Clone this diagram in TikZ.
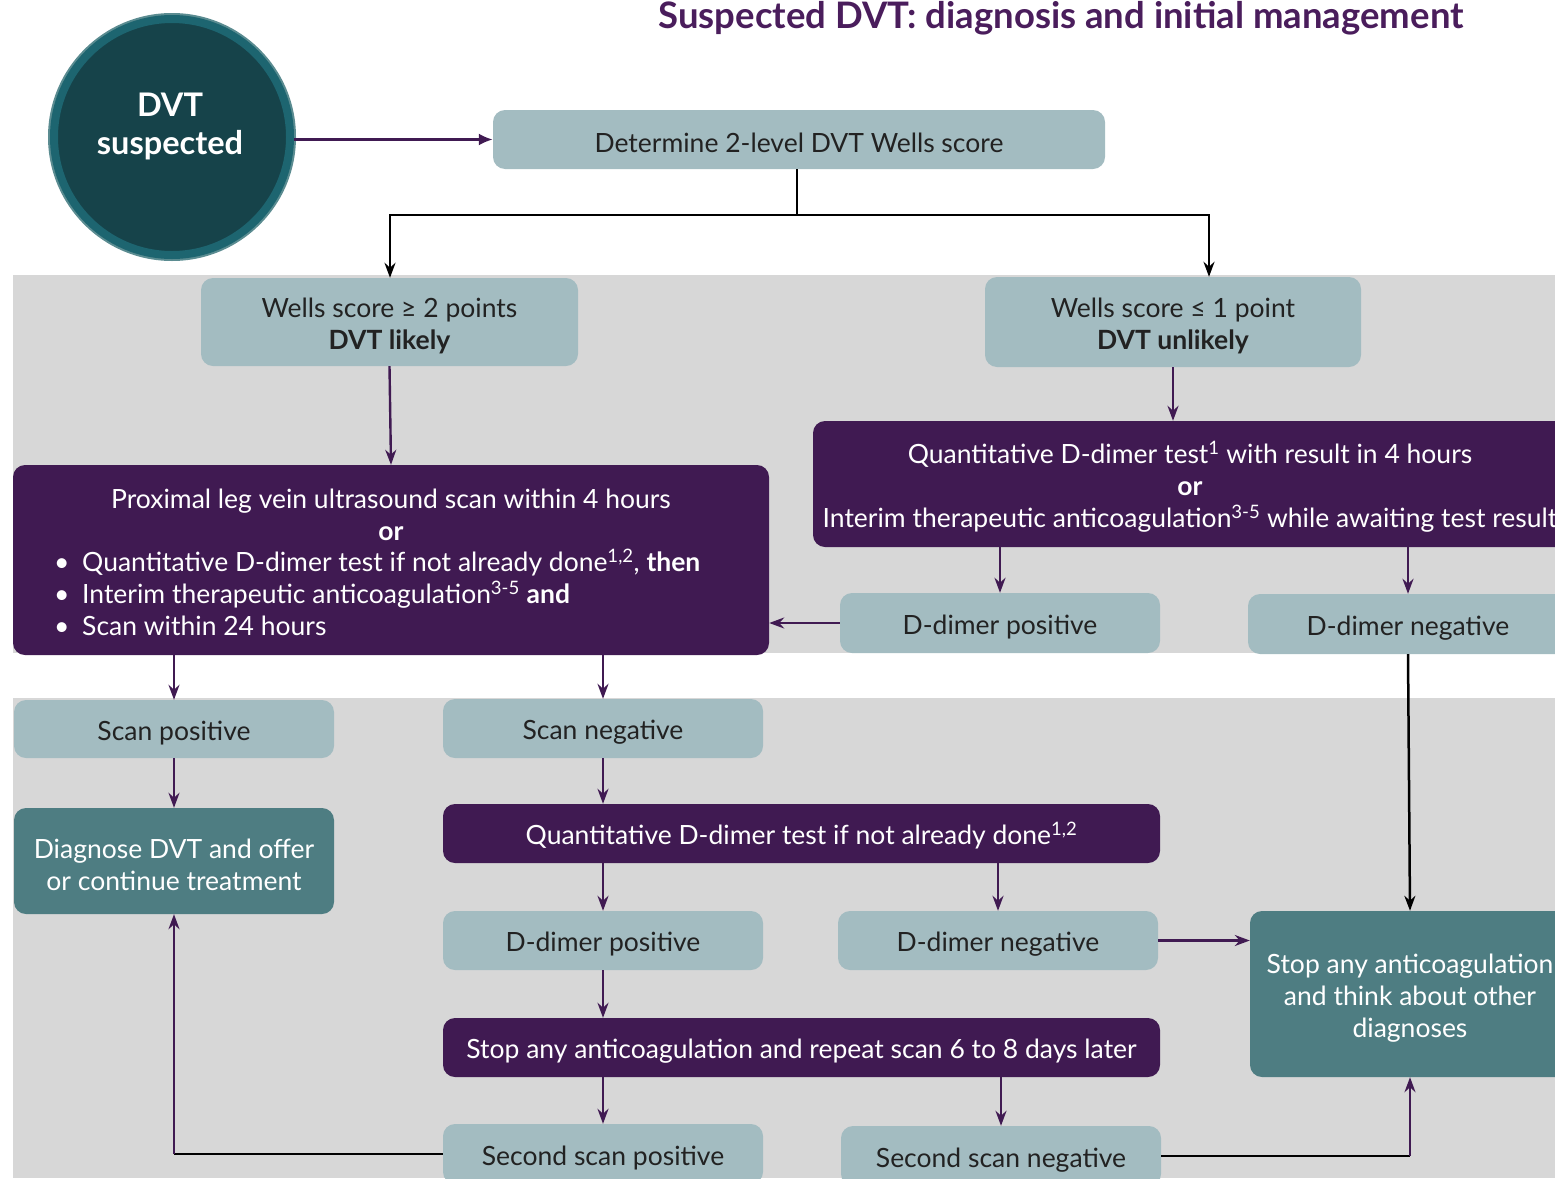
\documentclass[tikz,border=0pt]{standalone}
\usepackage{fontspec}
\setmainfont{Lato}
\usetikzlibrary{arrows.meta}
\definecolor{boxlight}{HTML}{A3BCC1}
\definecolor{boxpurple}{HTML}{401A52}
\definecolor{boxteal}{HTML}{4E7D82}
\definecolor{bandgray}{HTML}{D7D7D7}
\definecolor{titlecol}{HTML}{4A1D5C}
\definecolor{txtdark}{HTML}{222222}
\definecolor{circfill}{HTML}{16434A}
\definecolor{circring}{HTML}{1D6570}
\definecolor{circedge}{HTML}{5B8C91}
\newcommand\boxstrut{\rule{0pt}{27pt}}
\begin{document}
\begin{tikzpicture}[x=1pt,y=-1pt,
  bodyfont/.style={font=\fontsize{26.5}{32}\selectfont},
  base/.style={rounded corners=12pt, inner sep=0pt, align=center, bodyfont},
  light/.style={base, fill=boxlight, text=txtdark},
  purp/.style={base, fill=boxpurple, text=white},
  teal/.style={base, fill=boxteal, text=white},
  parr/.style={draw=boxpurple, line width=2.4pt, -{Stealth[length=15pt,width=11pt]}},
  barr/.style={draw=black, line width=2.5pt, -{Stealth[length=15pt,width=11pt]}},
  bline/.style={draw=black, line width=2.8pt},
]
\useasboundingbox (0,0) rectangle (1555,1178);
% bands
\fill[bandgray] (13,275) rectangle (1555,653);
\fill[bandgray] (13,698) rectangle (1555,1178);
% title
\node[anchor=base, text=titlecol, font=\fontsize{36.5}{42}\selectfont\bfseries, inner sep=0pt] (title) at (1061,28) {Suspected DVT: diagnosis and initial management};
% circle
\fill[circedge] (172,137) circle (124);
\node[circle, minimum size=236pt, inner sep=0pt, fill=circfill, draw=circring, line width=8pt] (circ) at (172,137) {};
\node[align=center, text=white, font=\fontsize{32.5}{38}\selectfont\bfseries] (circtxt) at (170,126) {DVT\\suspected};
% boxes
\node[light, minimum width=612pt, minimum height=59pt] (det) at (799,139.5) {\boxstrut Determine 2-level DVT Wells score};
\node[light, minimum width=377pt, minimum height=88pt] (wl) at (389.5,322) {\boxstrut Wells score ≥ 2 points\\\textbf{DVT likely}};
\node[light, minimum width=376pt, minimum height=90pt] (wu) at (1173,322) {\boxstrut Wells score ≤ 1 point\\\textbf{DVT unlikely}};
\node[purp, minimum width=756pt, minimum height=190pt] (prox) at (391,560) {};
\node[align=center, text=white, bodyfont, inner sep=0pt] (proxhead) at (391,515) {Proximal leg vein ultrasound scan within 4 hours\\\textbf{or}};
\node[align=left, anchor=west, text=white, bodyfont, inner sep=0pt] (proxlist) at (41,592) {\makebox[41pt][c]{•}Quantitative D-dimer test if not already done\textsuperscript{1,2}, \textbf{then}\\\makebox[41pt][c]{•}Interim therapeutic anticoagulation\textsuperscript{3-5} \textbf{and}\\\makebox[41pt][c]{•}Scan within 24 hours};
\node[purp, minimum width=754pt, minimum height=126pt] (dd1) at (1190,484) {\boxstrut Quantitative D-dimer test\textsuperscript{1} with result in 4 hours\\\textbf{or}\\Interim therapeutic anticoagulation\textsuperscript{3-5} while awaiting test result};
\node[light, minimum width=320pt, minimum height=60pt] (ddp1) at (1000,623) {\boxstrut D-dimer positive};
\node[light, minimum width=320pt, minimum height=60pt] (ddn1) at (1408,624) {\boxstrut D-dimer negative};
\node[light, minimum width=320pt, minimum height=58pt] (sp) at (174,729) {\boxstrut Scan positive};
\node[light, minimum width=320pt, minimum height=59pt] (sn) at (603,728.5) {\boxstrut Scan negative};
\node[teal, minimum width=320pt, minimum height=106pt] (diag) at (174,861) {\boxstrut Diagnose DVT and offer\\or continue treatment};
\node[purp, minimum width=717pt, minimum height=59pt] (qd) at (801.5,833.5) {\boxstrut Quantitative D-dimer test if not already done\textsuperscript{1,2}};
\node[light, minimum width=320pt, minimum height=59pt] (ddp2) at (603,940.5) {\boxstrut D-dimer positive};
\node[light, minimum width=320pt, minimum height=59pt] (ddn2) at (998,940.5) {\boxstrut D-dimer negative};
\node[teal, minimum width=320pt, minimum height=166pt] (stop) at (1410,994) {\boxstrut Stop any anticoagulation\\and think about other\\diagnoses};
\node[purp, minimum width=717pt, minimum height=59pt] (rep) at (801.5,1047.5) {\boxstrut Stop any anticoagulation and repeat scan 6 to 8 days later};
\node[light, minimum width=320pt, minimum height=60pt] (ssp) at (603,1154) {\boxstrut Second scan positive};
\node[light, minimum width=320pt, minimum height=60pt] (ssn) at (1001,1156) {\boxstrut Second scan negative};
% connectors
\draw[draw=boxpurple, line width=2.4pt, -{Latex[length=14pt,width=12pt]}] (circ.east |- det.west) -- (det.west);
\coordinate (jL) at (390,215);
\coordinate (jR) at (1209,215);
\coordinate (jT) at (797,215);
\draw[bline] (det.south -| jT) -- (jT);
\draw[barr] (jT) -| (jL |- wl.north);
\draw[barr] (jT) -| (jR |- wu.north);
\draw[parr] (wl.south) -- (prox.north);
\draw[parr] (wu.south) -- (wu.south |- dd1.north);
\draw[parr] (ddp1.north |- dd1.south) -- (ddp1.north);
\draw[parr] (ddn1.north |- dd1.south) -- (ddn1.north);
\draw[parr] (ddp1.west) -- (ddp1.west -| prox.east);
\draw[barr] (ddn1.south) -- (stop.north);
\draw[parr] (sp.north |- prox.south) -- (sp.north);
\draw[parr] (sn.north |- prox.south) -- (sn.north);
\draw[parr] (sp.south) -- (diag.north);
\draw[parr] (sn.south) -- (sn.south |- qd.north);
\draw[parr] (ddp2.north |- qd.south) -- (ddp2.north);
\draw[parr] (ddn2.north |- qd.south) -- (ddn2.north);
\draw[parr] (ddn2.east) -- (ddn2.east -| stop.west);
\draw[parr] (ddp2.south) -- (ddp2.south |- rep.north);
\draw[parr] (ssp.north |- rep.south) -- (ssp.north);
\draw[parr] (ssn.north |- rep.south) -- (ssn.north);
\draw[bline] (ssp.west) -- (ssp.west -| diag.south) coordinate (cL);
\draw[parr, line width=2pt] (cL) -- (diag.south);
\draw[bline] (ssn.east) -- (ssn.east -| stop.south) coordinate (cR);
\draw[parr, line width=2pt] (cR) -- (stop.south);
\end{tikzpicture}
\end{document}
